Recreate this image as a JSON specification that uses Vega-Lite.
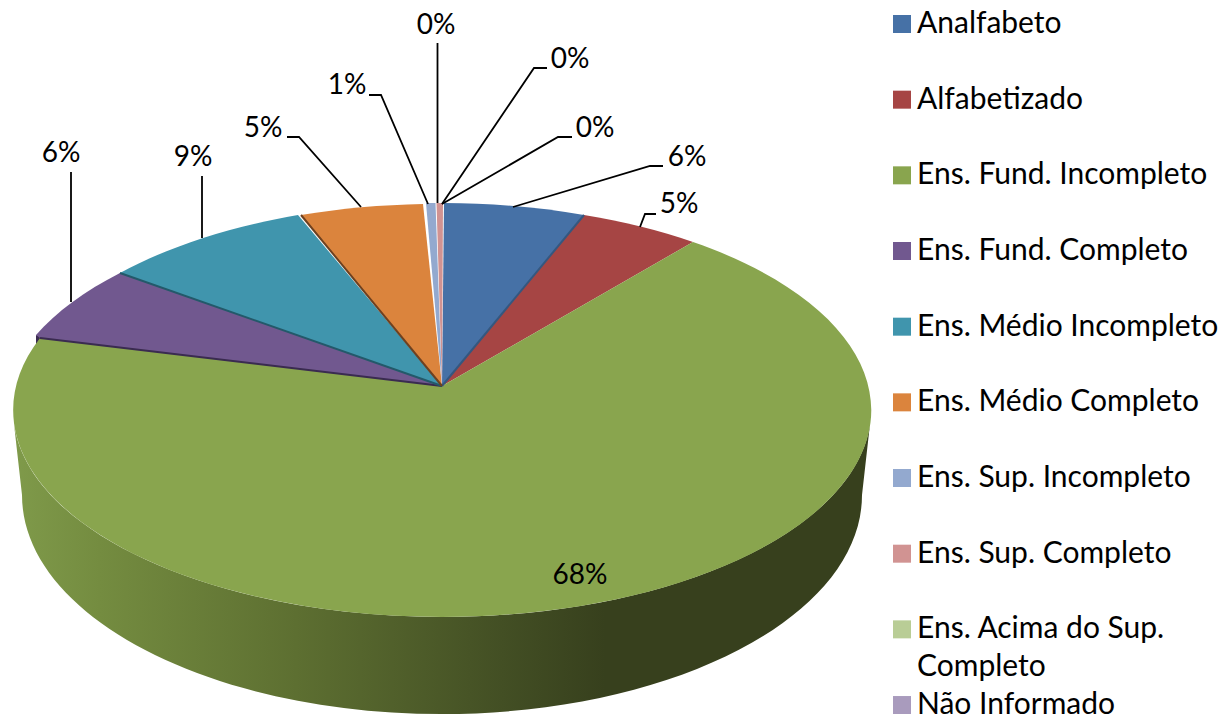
{
"$schema":"https://vega.github.io/schema/vega-lite/v6.json",
"width":1222,"height":714,"padding":0,"autosize":{"type":"none"},
"background":"white",
"config":{"view":{"stroke":null},"text":{"font":"Lato","fontSize":28,"color":"#000000"},"style":{"guide-label":{"lineHeight":38}}},
"data":{"values":[
{"categoria":"Analfabeto","pct":0.06},
{"categoria":"Alfabetizado","pct":0.05},
{"categoria":"Ens. Fund. Incompleto","pct":0.68},
{"categoria":"Ens. Fund. Completo","pct":0.06},
{"categoria":"Ens. Médio Incompleto","pct":0.09},
{"categoria":"Ens. Médio Completo","pct":0.05},
{"categoria":"Ens. Sup. Incompleto","pct":0.01},
{"categoria":"Ens. Sup. Completo","pct":0.0},
{"categoria":"Ens. Acima do Sup. Completo","pct":0.0},
{"categoria":"Não Informado","pct":0.0}
]},
"encoding":{
"x":{"datum":0,"type":"quantitative","axis":null,"scale":{"domain":[-442,780],"nice":false,"zero":false}},
"y":{"datum":0,"type":"quantitative","axis":null,"scale":{"domain":[328,-386],"nice":false,"zero":false}}
},
"layer":[
{"transform":[{"filter":"datum.categoria==='Ens. Fund. Incompleto'"}],
 "mark":{"type":"point","filled":true,"opacity":1,"size":4,"strokeWidth":0,"shape":"M-428 38 A429 207 0 0 0 428 38 L420 109 A420 219 0 0 1 -420 109 Z",
  "fill":{"gradient":"linear","x1":0,"y1":0,"x2":1,"y2":0,"stops":[{"offset":0,"color":"#7f9a4a"},{"offset":0.1,"color":"#748c40"},{"offset":0.33,"color":"#5d6f31"},{"offset":0.57,"color":"#434f24"},{"offset":0.69,"color":"#37401d"},{"offset":1,"color":"#37401d"}]}}},
{"transform":[{"filter":"datum.categoria==='Ens. Fund. Completo'"}],
 "mark":{"type":"point","filled":true,"opacity":1,"size":4,"strokeWidth":0,"fill":"#3a2b50","shape":"M-406 -51 L-406 -38 L-400 -49 Z"}},
{"mark":{"type":"point","filled":true,"opacity":1,"size":4,"strokeWidth":0},
 "encoding":{
  "color":{"field":"categoria","type":"nominal","sort":null,
   "scale":{"domain":["Analfabeto","Alfabetizado","Ens. Fund. Incompleto","Ens. Fund. Completo","Ens. Médio Incompleto","Ens. Médio Completo","Ens. Sup. Incompleto","Ens. Sup. Completo","Ens. Acima do Sup. Completo","Não Informado"],
    "range":["#4671a6","#a64544","#89a54e","#71588f","#4095ad","#db843d","#93a9cf","#d19392","#b9cd96","#a99bbd"]},
   "legend":{"title":null,"orient":"none","legendX":887,"legendY":9,"symbolType":"square","symbolSize":324,"symbolStrokeWidth":0,"symbolOpacity":1,"labelFont":"Lato","labelFontSize":30,"labelColor":"#000000","labelOffset":0,"labelLimit":400,"gridAlign":"all","rowPadding":7.67,"padding":0,
    "labelExpr":"datum.label==='Ens. Acima do Sup. Completo'?['Ens. Acima do Sup.','Completo']:datum.label"}},
  "shape":{"field":"categoria","type":"nominal","sort":null,"legend":null,
   "scale":{"domain":["Analfabeto","Alfabetizado","Ens. Fund. Incompleto","Ens. Fund. Completo","Ens. Médio Incompleto","Ens. Médio Completo","Ens. Sup. Incompleto","Ens. Sup. Completo","Ens. Acima do Sup. Completo","Não Informado"],
    "range":[
    "M0 0 L2 -183 A429 207 0 0 1 142 -171 Z",
    "M0 0 L142 -171 A429 207 0 0 1 251 -144 Z",
    "M0 0 L251 -144 A429 207 0 1 1 -402 -48 Z",
    "M0 0 L-402 -48 L-406 -51 A429 207 0 0 1 -322 -113 Z",
    "M0 0 L-322 -113 A429 207 0 0 1 -144 -171 Z",
    "M0 0 L-141 -171 A429 207 0 0 1 -19 -182 Z",
    "M0 0 L-16 -183 A429 207 0 0 1 -6.5 -183 Z",
    "M0 0 L-5.5 -183 A429 207 0 0 1 1 -183 Z",
    "M0 0","M0 0"]}}
 }},
{"transform":[{"filter":"indexof(['Analfabeto','Ens. Fund. Completo','Ens. Médio Incompleto','Ens. Médio Completo'],datum.categoria)>=0"}],
 "mark":{"type":"point","filled":false,"opacity":1,"size":4,"strokeWidth":2},
 "encoding":{
  "stroke":{"field":"categoria","type":"nominal","legend":null,"sort":null,
   "scale":{"domain":["Analfabeto","Ens. Fund. Completo","Ens. Médio Incompleto","Ens. Médio Completo"],"range":["#35577f","#3a2b50","#23596a","#6e4120"]}},
  "shape":{"field":"categoria","type":"nominal","legend":null,"sort":null,
   "scale":{"domain":["Analfabeto","Ens. Fund. Completo","Ens. Médio Incompleto","Ens. Médio Completo"],
    "range":["M0 0 L142 -171","M0 0 L-402 -48","M0 0 L-322 -113","M0 0 L-141 -171"]}}
 }},
{"transform":[{"filter":"datum.categoria!=='Ens. Fund. Incompleto'"}],
 "mark":{"type":"point","filled":false,"opacity":1,"size":4,"strokeWidth":1.8,"stroke":"#000000"},
 "encoding":{
  "shape":{"field":"categoria","type":"nominal","legend":null,"sort":null,
   "scale":{"domain":["Analfabeto","Alfabetizado","Ens. Fund. Completo","Ens. Médio Incompleto","Ens. Médio Completo","Ens. Sup. Incompleto","Ens. Sup. Completo","Ens. Acima do Sup. Completo","Não Informado"],
   "range":[
    "M221 -220 L208 -220 L71 -179",
    "M214 -172 L203 -172 L198 -159",
    "M-371 -214 L-371 -84",
    "M-240 -210 L-240 -148",
    "M-155 -249 L-143 -249 L-81 -179",
    "M-73 -291 L-61 -291 L-14 -182",
    "M-4.5 -343 L-4.5 -183",
    "M105 -318 L92 -318 L0 -182",
    "M130 -249 L116 -249 L0 -182"]}}
 }},
{"transform":[{"filter":"datum.categoria==='Analfabeto'"}],"mark":{"type":"text"},"encoding":{"x":{"datum":245},"y":{"datum":-228},"text":{"field":"pct","type":"quantitative","format":".0%"}}},
{"transform":[{"filter":"datum.categoria==='Alfabetizado'"}],"mark":{"type":"text"},"encoding":{"x":{"datum":237},"y":{"datum":-181},"text":{"field":"pct","type":"quantitative","format":".0%"}}},
{"transform":[{"filter":"datum.categoria==='Ens. Fund. Incompleto'"}],"mark":{"type":"text"},"encoding":{"x":{"datum":138},"y":{"datum":190},"text":{"field":"pct","type":"quantitative","format":".0%"}}},
{"transform":[{"filter":"datum.categoria==='Ens. Fund. Completo'"}],"mark":{"type":"text"},"encoding":{"x":{"datum":-381},"y":{"datum":-232},"text":{"field":"pct","type":"quantitative","format":".0%"}}},
{"transform":[{"filter":"datum.categoria==='Ens. Médio Incompleto'"}],"mark":{"type":"text"},"encoding":{"x":{"datum":-249},"y":{"datum":-228},"text":{"field":"pct","type":"quantitative","format":".0%"}}},
{"transform":[{"filter":"datum.categoria==='Ens. Médio Completo'"}],"mark":{"type":"text"},"encoding":{"x":{"datum":-179},"y":{"datum":-257},"text":{"field":"pct","type":"quantitative","format":".0%"}}},
{"transform":[{"filter":"datum.categoria==='Ens. Sup. Incompleto'"}],"mark":{"type":"text"},"encoding":{"x":{"datum":-95},"y":{"datum":-300},"text":{"field":"pct","type":"quantitative","format":".0%"}}},
{"transform":[{"filter":"datum.categoria==='Ens. Sup. Completo'"}],"mark":{"type":"text"},"encoding":{"x":{"datum":-6},"y":{"datum":-360},"text":{"field":"pct","type":"quantitative","format":".0%"}}},
{"transform":[{"filter":"datum.categoria==='Ens. Acima do Sup. Completo'"}],"mark":{"type":"text"},"encoding":{"x":{"datum":128},"y":{"datum":-326},"text":{"field":"pct","type":"quantitative","format":".0%"}}},
{"transform":[{"filter":"datum.categoria==='Não Informado'"}],"mark":{"type":"text"},"encoding":{"x":{"datum":153},"y":{"datum":-257},"text":{"field":"pct","type":"quantitative","format":".0%"}}}
],
"resolve":{"scale":{"shape":"independent"}}
}
